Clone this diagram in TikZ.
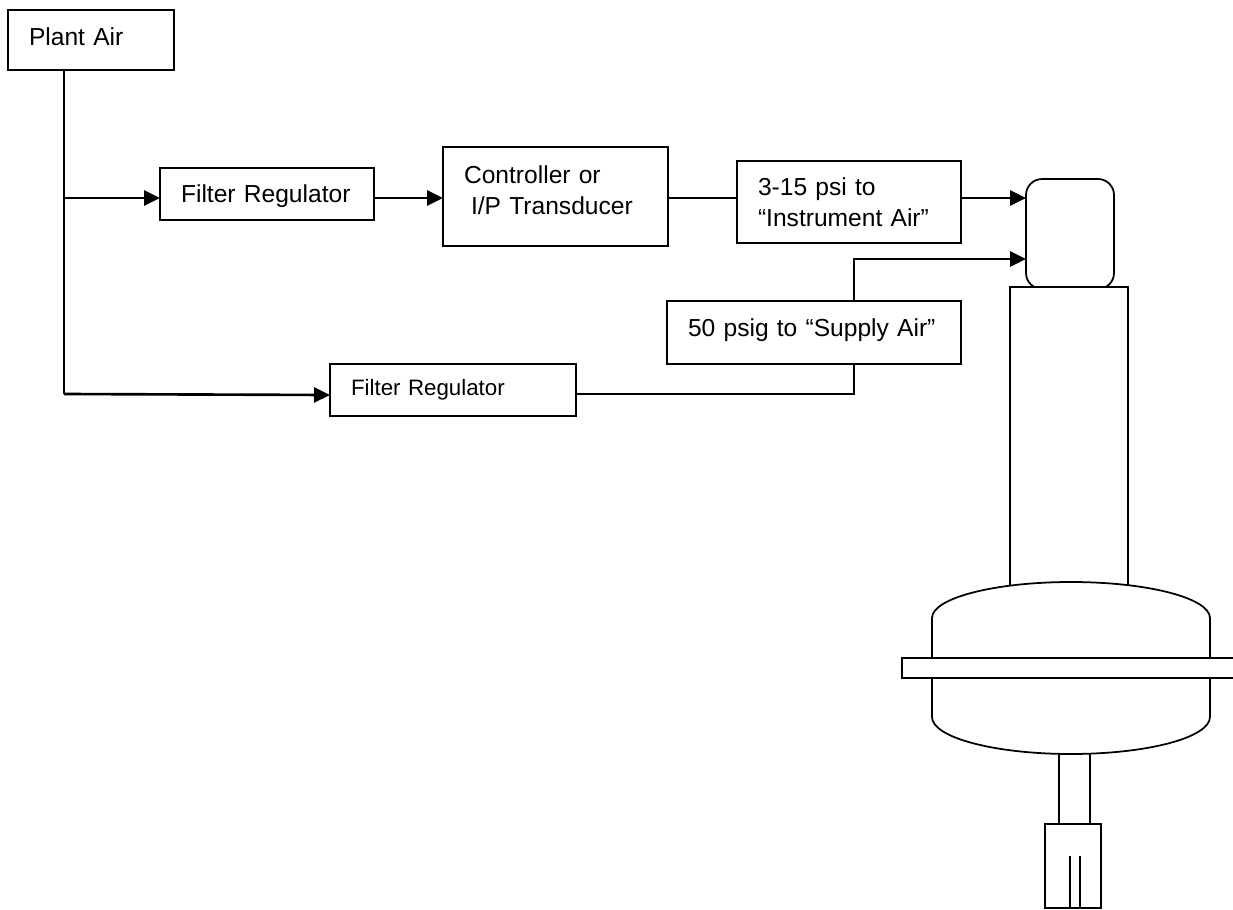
\documentclass[tikz,border=0pt]{standalone}
\usepackage{fontspec}
\setmainfont{Liberation Sans}
\usetikzlibrary{arrows.meta}

\begin{document}
\begin{tikzpicture}[
    x=0.02cm, y=-0.02cm,
    blockbox/.style={rectangle, draw=black, line width=1pt, inner xsep=0.42cm, inner ysep=0pt,
                     outer sep=0pt, align=left, font=\fontsize{14}{17.6}\selectfont},
    wire/.style={line width=1pt, black},
    feed/.style={-{Triangle[length=0.32cm, width=0.3cm]}, line width=1.5pt, black},
    part/.style={line width=1pt, draw=black, fill=white},
  ]
    \useasboundingbox (0,0) rectangle (1233,909);

    % Plant air and branch points
    \node[blockbox, minimum width=3.32cm, minimum height=1.2cm, text width=2.48cm] (PLANT) at (91,40) {Plant Air\rule[-0.12cm]{0pt}{0pt}};
    \coordinate (TEE1) at (64,198);
    \coordinate (TEE2) at (64,394);
    \coordinate (IN2) at (330,395);

    % Instrument air line
    \node[blockbox, minimum width=4.28cm, minimum height=1.04cm, text width=3.44cm] (FR1) at (267,194) {\rule{0pt}{0.43cm}Filter Regulator};
    \node[blockbox, minimum width=4.5cm, minimum height=1.98cm, text width=3.66cm] (CTRL) at (555.5,196.5) {Controller or\\\hspace*{0.14cm}I/P Transducer\rule[-0.24cm]{0pt}{0pt}};
    \node[blockbox, minimum width=4.48cm, minimum height=1.64cm, text width=3.64cm] (INSTR) at (849,202) {3-15 psi to\\“Instrument Air”};

    % Supply air line
    \node[blockbox, minimum width=4.92cm, minimum height=1.04cm, text width=4.08cm, font=\fontsize{12.7}{15}\selectfont] (FR2) at (453,390) {Filter Regulator};
    \node[blockbox, minimum width=5.88cm, minimum height=1.26cm, text width=5.04cm] (SUPPLY) at (814,332.5) {50 psig to “Supply Air”\rule[-0.2cm]{0pt}{0pt}};
    \coordinate (JOG1) at (854,259);
    \coordinate (JOG2) at (854,394);

    % Valve top
    \node[rectangle, line width=1pt, draw=black, rounded corners=0.32cm, outer sep=0pt,
          minimum width=1.76cm, minimum height=2.2cm] (POS) at (1070,234) {};

    % Connectors
    \draw[wire] (PLANT.south -| TEE1) -- (TEE2);
    \draw[feed] (TEE1) -- (FR1.west |- TEE1);
    \draw[feed] (FR1.east |- TEE1) -- (CTRL.west |- TEE1);
    \draw[wire] (CTRL.east |- TEE1) -- (INSTR.west |- TEE1);
    \draw[feed] (INSTR.east |- TEE1) -- (POS.west |- TEE1);
    \draw[feed] (TEE2) -- (IN2);
    \draw[wire] (FR2.east |- JOG2) -- (JOG2) -- (SUPPLY.south -| JOG2);
    \draw[feed] (SUPPLY.north -| JOG1) -- (JOG1) -- (POS.west |- JOG1);

    % Actuator body
    \draw[part] (1010,600) -- (1010,287) -- (1128,287) -- (1128,600);
    \draw[part] (932,660) -- (932,618) arc[start angle=180, end angle=0, x radius=2.78cm, y radius=0.72cm] -- (1210,660);
    \draw[part] (932,676) -- (932,717) arc[start angle=180, end angle=360, x radius=2.78cm, y radius=0.74cm] -- (1210,676);
    \draw[part] (1234,658) -- (902,658) -- (902,678) -- (1234,678);

    % Stem
    \draw[part] (1059,754) -- (1059,824);
    \draw[part] (1090,754) -- (1090,824);
    \draw[part] (1045,824) rectangle (1101,908);
    \draw[wire] (1070,856) -- (1070,908);
    \draw[wire] (1080,856) -- (1080,908);
  \end{tikzpicture}
\end{document}
